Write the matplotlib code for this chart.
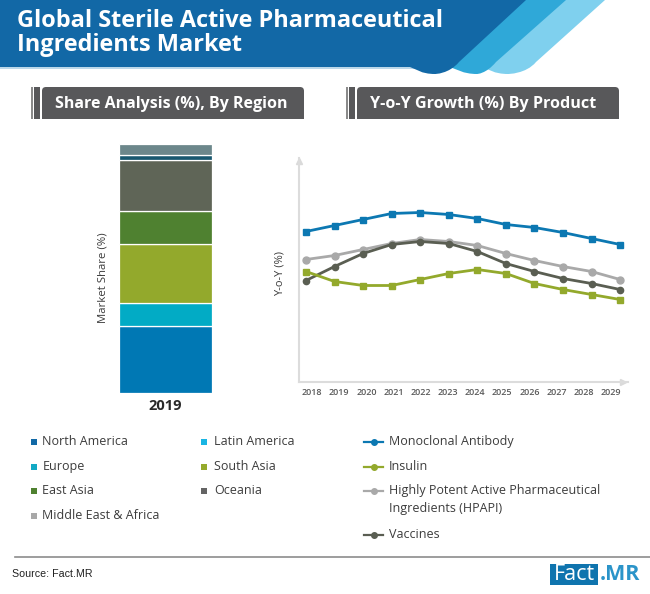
"""
Global Sterile Active Pharmaceutical Ingredients Market infographic.
Stacked share bar on the left, Y-o-Y growth lines on the right.
"""
import numpy as np
import matplotlib
matplotlib.use("Agg")
import matplotlib.pyplot as plt
from matplotlib.patches import PathPatch, Rectangle, FancyBboxPatch
from matplotlib.path import Path

plt.rcParams['font.family'] = ['Open Sans', 'DejaVu Sans']

# Share data, bottom to top
regions = ["North America", "Europe", "South Asia", "East Asia", "Oceania",
           "Latin America", "Middle East & Africa"]
shares = [27.0, 9.0, 24.0, 13.2, 20.2, 2.3, 4.3]
bar_colors = ["#0078b4", "#02abc5", "#93a92c", "#4f8130", "#5f6557", "#17576f", "#6c878b"]
bar_year = "2019"

# Growth data
years = [2018, 2019, 2020, 2021, 2022, 2023, 2024, 2025, 2026, 2027, 2028, 2029]
monoclonal = [15.0, 15.6, 16.2, 16.8, 16.9, 16.7, 16.3, 15.7, 15.4, 14.9, 14.3, 13.7]
insulin = [11.0, 10.0, 9.6, 9.6, 10.2, 10.8, 11.2, 10.8, 9.8, 9.2, 8.7, 8.2]
hpapi = [12.2, 12.6, 13.2, 13.8, 14.2, 14.0, 13.6, 12.8, 12.1, 11.5, 11.0, 10.2]
vaccines = [10.1, 11.5, 12.8, 13.7, 14.0, 13.8, 13.0, 11.8, 11.0, 10.3, 9.8, 9.2]

W, H = 650, 594
BLUE = "#1268a6"
MID = "#2fa8d8"
LIGHT = "#7fd0ee"
GREY = "#58585a"
TEXT = "#3c3c3c"


def px_axes(left, top, right, bottom):
    """Axes placed by pixel box, y measured from the top of the image."""
    return fig.add_axes([left / W, 1 - bottom / H, (right - left) / W, (bottom - top) / H])


fig = plt.figure(figsize=(W / 100, H / 100), dpi=100, facecolor="white")

# Overlay in image pixels for the header, section bars and legend
bg = fig.add_axes([0, 0, 1, 1], zorder=0)
bg.set_xlim(0, W)
bg.set_ylim(H, 0)
bg.axis('off')


def band(x_top, x_edge, y_edge, x_low, x_end, color, extra=()):
    """Diagonal header band with a rounded bottom."""
    verts = [(x_top, 0), (x_edge, y_edge),
             (x_edge - 10, 74), (x_low, 74), (x_low, 74),
             (x_low - 14, 74), (x_end + 6, 69), (x_end, 67)]
    codes = [Path.MOVETO, Path.LINETO,
             Path.CURVE4, Path.CURVE4, Path.CURVE4,
             Path.CURVE4, Path.CURVE4, Path.CURVE4]
    for p in extra:
        verts.append(p)
        codes.append(Path.LINETO)
    verts.append((x_top, 0))
    codes.append(Path.CLOSEPOLY)
    bg.add_patch(PathPatch(Path(verts, codes), facecolor=color, edgecolor="none"))


bg.add_patch(Rectangle((0, 67), 420, 1.5, facecolor="#bcd8ea", edgecolor="none"))
band(605, 536, 62, 508, 482, LIGHT, extra=[(482, 0)])
band(566, 496, 62, 477, 450, MID, extra=[(450, 0)])
band(526, 459, 62, 435, 410, BLUE, extra=[(0, 67), (0, 0)])

bg.text(17, 21, "Global Sterile Active Pharmaceutical", color="white", fontsize=16.9,
        fontweight='bold', va='center', ha='left')
bg.text(17, 45, "Ingredients Market", color="white", fontsize=16.9,
        fontweight='bold', va='center', ha='left')

# Section title bars, the rounded box runs below y=119 and gets cut off there
for x0, x1, label, xc, fs in [(31, 304, "Share Analysis (%), By Region", 171, 11.5),
                              (346, 619, "Y-o-Y Growth (%) By Product", 483, 11.6)]:
    bg.add_patch(Rectangle((x0, 87), 2, 32, facecolor="#8a8a8a", edgecolor="none"))
    bg.add_patch(Rectangle((x0 + 3, 87), 5.5, 32, facecolor=GREY, edgecolor="none"))
    box = FancyBboxPatch((x0 + 11, 87), x1 - x0 - 11, 40,
                         boxstyle="round,pad=0,rounding_size=4",
                         facecolor=GREY, edgecolor="none")
    bg.add_patch(box)
    box.set_clip_path(Rectangle((0, 87), W, 32, transform=bg.transData))
    bg.text(xc, 104, label, color="white", fontsize=fs, fontweight='bold',
            va='center', ha='center')

# Stacked bar
ax_bar = px_axes(119, 144, 212, 393)
bottoms = np.concatenate([[0], np.cumsum(shares)[:-1]])
ax_bar.bar([bar_year] * len(shares), shares, bottom=bottoms, width=1.0, color=bar_colors,
           edgecolor="white", linewidth=0.9, label=regions)
ax_bar.set_ylim(0, sum(shares))
ax_bar.margins(x=0)
ax_bar.axis('off')
bg.text(165.5, 406, bar_year, color="#2a2a2a", fontsize=10.5, fontweight='bold',
        va='center', ha='center')
bg.text(103, 278, "Market Share (%)", color=TEXT, fontsize=8.2, rotation=90,
        va='center', ha='center')

# Growth lines, one year is 28.55 px wide and one unit is 10 px high
ax_line = px_axes(298.5, 158, 628, 381.5)
ax_line.set_facecolor("none")
ax_line.set_xlim(2018 - 7.5 / 28.55, 2018 + 322 / 28.55)
ax_line.set_ylim(0, 22.35)
line_styles = [(monoclonal, "#0c78b2", 's', 5.0), (hpapi, "#a9a9a9", 'o', 5.0),
               (vaccines, "#5a5e52", 'o', 4.5), (insulin, "#93a92c", 's', 4.5)]
for values, color, marker, size in line_styles:
    ax_line.plot(years, values, color=color, lw=2, marker=marker, ms=size, clip_on=False)

for side in ['top', 'right']:
    ax_line.spines[side].set_visible(False)
for side in ['left', 'bottom']:
    ax_line.spines[side].set_color("#dcdcdc")
    ax_line.spines[side].set_linewidth(1.5)
ax_line.set_yticks([])
# the year labels sit on a slightly tighter spacing than the points
ax_line.set_xticks(np.linspace(2018.21, 2028.68, len(years)))
ax_line.set_xticklabels([str(y) for y in years], fontsize=6.5, color="#5a5a5a", fontweight='semibold')
ax_line.tick_params(axis='x', length=0, pad=5)
ax_line.plot(0.985, 0, marker='>', ms=5, color="#dadada", transform=ax_line.transAxes, clip_on=False)
ax_line.plot(0, 0.985, marker='^', ms=5, color="#dadada", transform=ax_line.transAxes, clip_on=False)
bg.text(280, 273, "Y-o-Y (%)", color=TEXT, fontsize=8, rotation=90, va='center', ha='center')

# Legends
legend_fs = 9.0
square_items = [("North America", "#1269a6", 31, 442), ("Europe", "#12a9c4", 31, 467),
                ("East Asia", "#4f8130", 31, 491), ("Middle East & Africa", "#a8a8a8", 31, 516),
                ("Latin America", "#19b5e3", 201, 442), ("South Asia", "#95aa2c", 201, 467),
                ("Oceania", "#646464", 201, 491)]
for label, color, x, y in square_items:
    bg.add_patch(Rectangle((x, y - 3), 6, 6, facecolor=color, edgecolor="none"))
    text_x = x + 13.5 if x > 100 else x + 11.5
    bg.text(text_x, y - 0.5, label, color=TEXT, fontsize=legend_fs, va='center', ha='left')

line_items = [("Monoclonal Antibody", "#0c78b2", 442, 441.5), ("Insulin", "#93a92c", 467, 466.5),
              ("Highly Potent Active Pharmaceutical\nIngredients (HPAPI)", "#a9a9a9", 491, 499.5),
              ("Vaccines", "#5a5e52", 535, 534.5)]
for label, color, y, text_y in line_items:
    bg.plot([364, 383], [y, y], color=color, lw=1.6)
    bg.plot([373.5], [y], color=color, marker='o', ms=4)
    bg.text(389, text_y, label, color=TEXT, fontsize=legend_fs, va='center', ha='left', linespacing=1.45)

# Footer
bg.plot([15, W], [557, 557], color="#8c8c8c", lw=1.2)
bg.text(12, 574, "Source: Fact.MR", color="#222222", fontsize=7.7, va='center', ha='left',
        family=['Liberation Sans', 'DejaVu Sans'])
bg.add_patch(Rectangle((550, 564), 48, 21, facecolor="#0f74ae", edgecolor="none"))
bg.text(574, 574.5, "Fact", color="white", fontsize=15.5, va='center', ha='center')
bg.text(600, 574.5, ".MR", color="#2b94c9", fontsize=15.5, fontweight='bold', va='center', ha='left')

fig.savefig("out.png", dpi=100)
